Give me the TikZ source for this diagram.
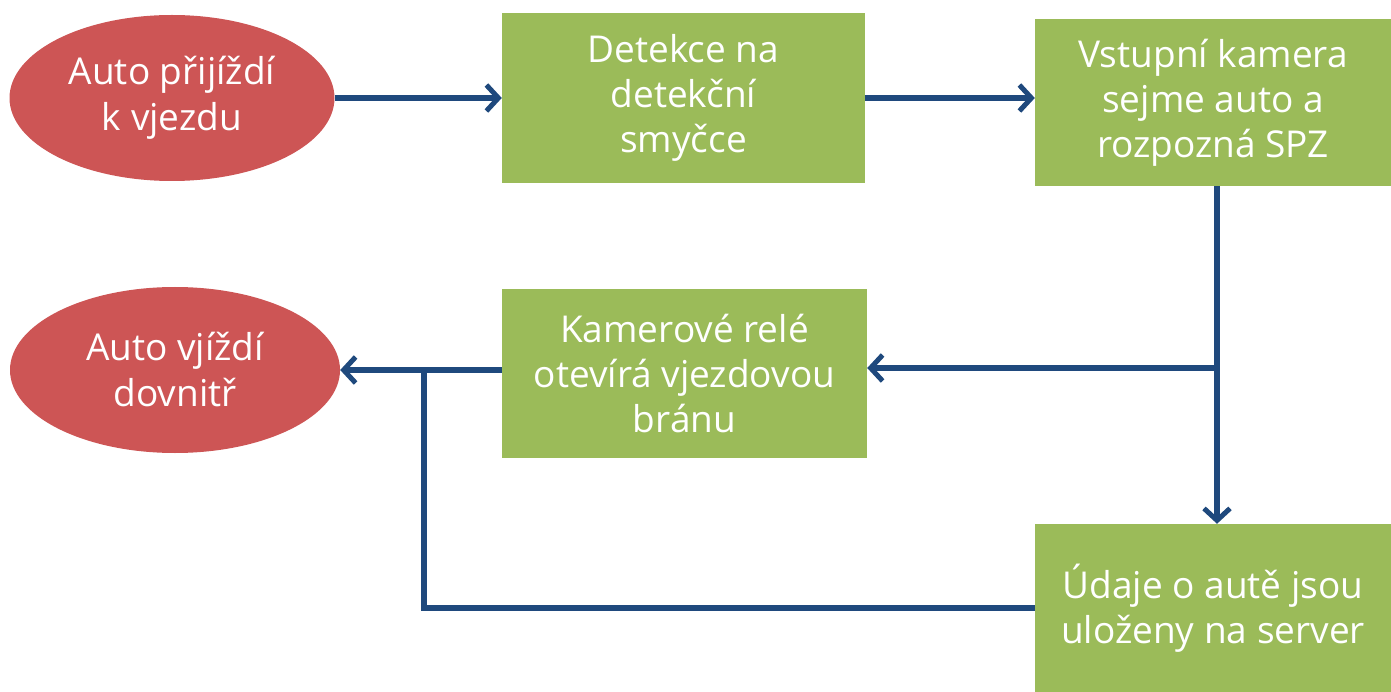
\documentclass[tikz,border=0pt]{standalone}
\usepackage{fontspec}
\setmainfont{Open Sans}
\usetikzlibrary{arrows.meta,shapes.geometric}
\definecolor{redfill}{RGB}{205,85,85}
\definecolor{greenfill}{RGB}{155,187,89}
\definecolor{arrowblue}{RGB}{31,73,125}
\tikzset{
  oval/.style={ellipse, fill=redfill, draw=none, text=white, align=center, inner sep=0pt, font=\fontsize{37}{46}\selectfont},
  greenbox/.style={rectangle, fill=greenfill, draw=none, text=white, align=center, inner sep=0pt, font=\fontsize{37}{45}\selectfont},
  conn/.style={draw=arrowblue, line width=5.5pt},
  tip/.style={-{Straight Barb[length=12pt,width=26pt,line width=5pt]}}
}
\begin{document}
\begin{tikzpicture}[x=1pt,y=-1pt]
\useasboundingbox (0,0) rectangle (1391,692);
\node[oval, minimum width=325pt, minimum height=166pt] (e1) at (172,98) {Auto přijíždí\\k vjezdu};
\node[oval, minimum width=330pt, minimum height=166pt] (e2) at (175,370) {Auto vjíždí\\dovnitř};
\node[greenbox, minimum width=363pt, minimum height=170pt] (b1) at (683.5,98) {Detekce na\\detekční\\smyčce};
\node[greenbox, minimum width=356pt, minimum height=167pt] (b2) at (1213,102.5) {Vstupní kamera\\sejme auto a\\rozpozná SPZ};
\node[greenbox, minimum width=365pt, minimum height=169pt] (b3) at (684.5,373.5) {Kamerové relé\\otevírá vjezdovou\\bránu};
\node[greenbox, minimum width=356pt, minimum height=168pt] (b4) at (1213,608) {Údaje o autě jsou\\uloženy na server};
\coordinate (split) at (1217,368);
\coordinate (join) at (424,370);
\coordinate (corner) at (424,608);
\draw[conn,tip] (e1.east) -- (b1.west);
\draw[conn,tip] (b1.east) -- (b1.east -| b2.west);
\draw[conn,tip] (b2.south -| split) -- (b4.north -| split);
\draw[conn,tip] (split) -- (split -| b3.east);
\draw[conn,tip] (b3.west |- join) -- (e2.east |- join);
\draw[conn] (b4.west) -- (corner) -- (join);
\end{tikzpicture}
\end{document}
